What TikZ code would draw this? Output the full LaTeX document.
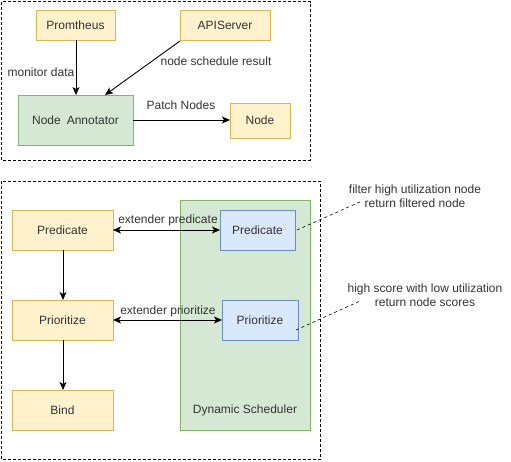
\documentclass[tikz,border=0pt]{standalone}
\usepackage{fontspec}
\setmainfont{Liberation Sans}
\usetikzlibrary{arrows.meta}
\definecolor{yfill}{HTML}{FFF2CC}\definecolor{ydraw}{HTML}{D6B656}
\definecolor{gfill}{HTML}{D5E8D4}\definecolor{gdraw}{HTML}{82B366}
\definecolor{bfill}{HTML}{DAE8FC}\definecolor{bdraw}{HTML}{6C8EBF}
\definecolor{txt}{HTML}{333333}
\begin{document}
\begin{tikzpicture}[x=1pt,y=-1pt,
  font=\fontsize{12}{14}\selectfont,
  ybox/.style={draw=ydraw,fill=yfill,line width=0.8pt,text=txt},
  gbox/.style={draw=gdraw,fill=gfill,line width=0.8pt,text=txt},
  bbox/.style={draw=bdraw,fill=bfill,line width=0.8pt,text=txt},
  frame/.style={draw,dashed,line width=0.8pt,dash pattern=on 3pt off 2pt},
  arr/.style={-{Stealth[length=8pt,width=7pt,inset=2pt]},line width=0.9pt},
  darr/.style={{Stealth[length=8pt,width=7pt,inset=2pt]}-{Stealth[length=8pt,width=7pt,inset=2pt]},line width=0.9pt},
  lbl/.style={text=txt,inner sep=0pt},
  note/.style={draw,dashed,dash pattern=on 3pt off 3pt,line width=0.6pt}]
\useasboundingbox (0,0) rectangle (511,461);
% frames
\draw[frame] (1.5,1.5) rectangle (310,160);
\draw[frame] (1.5,181) rectangle (320,459.5);
% top boxes
\draw[ybox] (36,10) rectangle node[lbl] (prom) {Promtheus} (115,40);
\coordinate (promS) at (76,40);
\draw[ybox] (180,10) rectangle node[lbl] (api) {APIServer} (270,40);
\coordinate (apiC) at (180,41);
\draw[gbox] (18,95) rectangle node[lbl] (ann) {Node\enspace Annotator} (133,145);
\coordinate (annT) at (76,95);
\coordinate (annTR) at (105,95);
\coordinate (annR) at (133,120);
\draw[ybox] (230,103) rectangle node[lbl] (node) {Node} (290,138);
\coordinate (nodeL) at (230,120);
\draw[arr] (promS) -- (annT);
\draw[arr] (apiC) -- (annTR);
\draw[arr] (annR) -- (nodeL);
\node[lbl] (md) at (41,72) {monitor data};
\node[lbl] (nsr) at (216,61) {node schedule result};
\node[lbl] (pn) at (181,105) {Patch Nodes};
% bottom
\draw[gbox] (180,200) rectangle (310,430);
\node[lbl] (ds) at (245,410) {Dynamic Scheduler};
\draw[ybox] (12,210) rectangle node[lbl] (pred) {Predicate} (113,250);
\draw[ybox] (12,300) rectangle node[lbl] (prio) {Prioritize} (113,340);
\draw[ybox] (12,390) rectangle node[lbl] (bind) {Bind} (113,430);
\draw[bbox] (220,210) rectangle node[lbl] (bpred) {Predicate} (295,250);
\draw[bbox] (222,300) rectangle node[lbl] (bprio) {Prioritize} (298,340);
\coordinate (predB) at (63,250);\coordinate (prioT) at (63,300);
\coordinate (prioB) at (63,340);\coordinate (bindT) at (63,390);
\draw[arr] (predB) -- (prioT);
\draw[arr] (prioB) -- (bindT);
\coordinate (predR) at (113,230);\coordinate (bpredL) at (220,230);
\coordinate (prioR) at (113,320);\coordinate (bprioL) at (222,320);
\draw[darr] (predR) -- (bpredL);
\draw[darr] (prioR) -- (bprioL);
\node[lbl] (ep) at (168,220) {extender predicate};
\node[lbl] (epr) at (168,311) {extender prioritize};
% notes
\node[lbl,align=center] (n1) at (415,196) {filter high utilization node\\return filtered node};
\node[lbl,align=center] (n2) at (425,295) {high score with low utilization\\return node scores};
\coordinate (n1s) at (297,230);\coordinate (n1e) at (362,201);
\coordinate (n2s) at (296,330);\coordinate (n2e) at (360,301);
\draw[note] (n1s) -- (n1e);
\draw[note] (n2s) -- (n2e);
\end{tikzpicture}
\end{document}
